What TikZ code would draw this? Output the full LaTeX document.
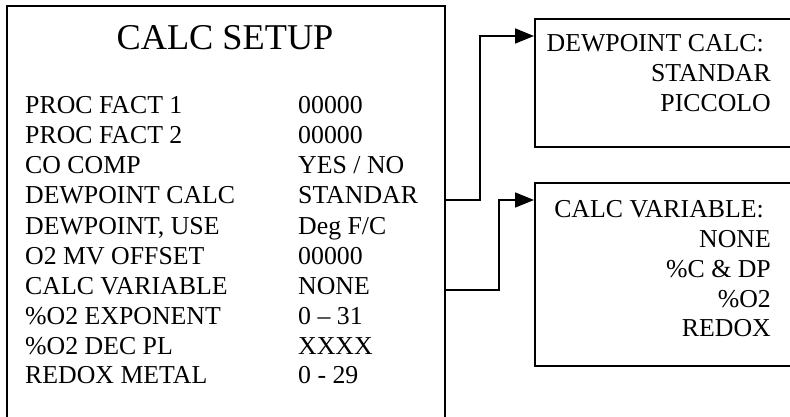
\documentclass[tikz,border=0pt]{standalone}
\usepackage{fontspec}
\setmainfont{Liberation Serif}
\usetikzlibrary{arrows.meta}

\tikzset{
  box/.style={draw, line width=1.7pt, anchor=north west, inner sep=0pt},
  row/.style={anchor=base west, inner sep=0pt, font=\fontsize{25.8}{30}\selectfont},
  opt/.style={anchor=base east, inner sep=0pt, font=\fontsize{25.8}{30}\selectfont},
  link/.style={line width=1.7pt, -{Triangle[length=19pt,width=15pt]}}
}

\begin{document}
\begin{tikzpicture}[x=1pt,y=-1pt]
      \useasboundingbox (0,0) rectangle (790,417);

      % boxes
      \node[box, minimum width=438pt, minimum height=430pt] (setup) at (6,5) {};
      \node[box, minimum width=300pt, minimum height=128pt] (dpbox) at (534,18) {};
      \node[box, minimum width=300pt, minimum height=183pt] (cvbox) at (534,182) {};

      \node[anchor=base, inner sep=0pt, font=\fontsize{36.3}{40}\selectfont] (title) at (225,50) {CALC SETUP};

      \begin{scope}[every node/.style={row}]
        \node (l1) at (25,114) {PROC FACT 1};
        \node (l2) at (25,144) {PROC FACT 2};
        \node (l3) at (25,174) {CO COMP};
        \node (l4) at (25,204) {DEWPOINT CALC};
        \node (l5) at (25,234) {DEWPOINT, USE};
        \node (l6) at (25,264) {O2 MV OFFSET};
        \node (l7) at (25,294) {CALC VARIABLE};
        \node (l8) at (25,324) {\%O2 EXPONENT};
        \node (l9) at (25,354) {\%O2 DEC PL};
        \node (l10) at (25,383) {REDOX METAL};

        \node (v1) at (298,114) {00000};
        \node (v2) at (298,144) {00000};
        \node (v3) at (298,174) {YES / NO};
        \node (v4) at (298,204) {STANDAR};
        \node (v5) at (298,234) {Deg F/C};
        \node (v6) at (298,264) {00000};
        \node (v7) at (298,294) {NONE};
        \node (v8) at (298,324) {0 -- 31};
        \node (v9) at (298,354) {XXXX};
        \node (v10) at (298,383) {0 - 29};
      \end{scope}

      \begin{scope}[every node/.style={opt}]
        \node (dp0) at (764,52) {DEWPOINT CALC:};
        \node (dp1) at (771,82) {STANDAR};
        \node (dp2) at (771,112) {PICCOLO};

        \node (cv0) at (764,217) {CALC VARIABLE:};
        \node (cv1) at (771,247) {NONE};
        \node (cv2) at (771,277) {\%C \& DP};
        \node (cv3) at (771,307) {\%O2};
        \node (cv4) at (771,336) {REDOX};
      \end{scope}

      % connectors
      \coordinate (dp out) at (444,200);
      \coordinate (dp in) at (534,36);
      \coordinate (cv out) at (444,290);
      \coordinate (cv in) at (534,200);
      \draw[link] (dp out) -- (480,200) |- (dp in);
      \draw[link] (cv out) -- (499,290) |- (cv in);

    \end{tikzpicture}
\end{document}
